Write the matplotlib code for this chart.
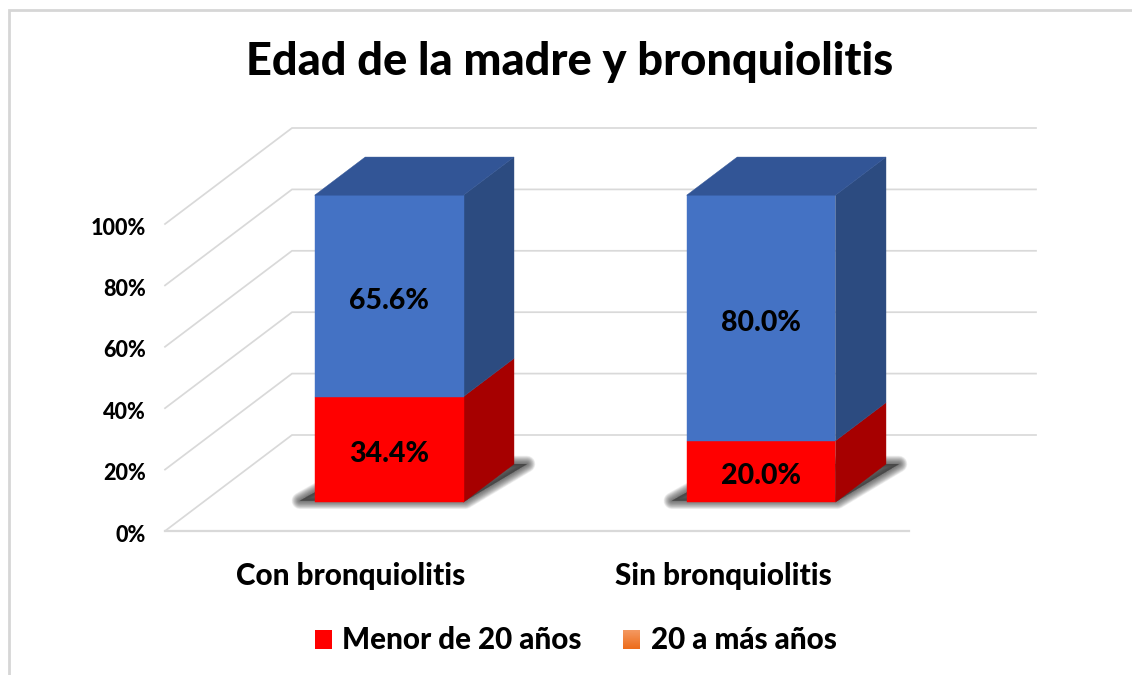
#Recreates the 3D looking stacked bar chart with plain 2D polygons.
import matplotlib
matplotlib.use("Agg")
import numpy as np
from matplotlib import pyplot as plt
from matplotlib.patches import Polygon, Rectangle
from matplotlib.colors import LinearSegmentedColormap
from matplotlib.transforms import ScaledTranslation

categories = ["Con bronquiolitis", "Sin bronquiolitis"]
menor_20 = [34.4, 20.0]
mayor_20 = [65.6, 80.0]
y_ticks = [0, 20, 40, 60, 80, 100]
series_names = ["Menor de 20 años", "20 a más años"]

W, H = 1132, 675

#Oblique projection: how far the back wall sits from the front plane, in data units.
DEPTH_X = 127 / 372
DEPTH_Y = 96 / 3.07
BAR_WIDTH = 0.40
BAR_FRONT = 0.30
BAR_BACK = 0.6975
RIGHT = 2

GRID = "#D9D9D9"
RED, RED_SIDE = "#FF0000", "#A60000"
BLUE, BLUE_TOP, BLUE_SIDE = "#4472C4", "#325596", "#2C4B80"

plt.rcParams["font.family"] = ["Lato", "DejaVu Sans"]
plt.rcParams["font.weight"] = 900


def proj(x, y, d):
  return (x + d * DEPTH_X, y + d * DEPTH_Y)


def face(ax, pts, color, z):
  ax.add_patch(Polygon(pts, closed=True, facecolor=color, edgecolor=color, lw=0.3, zorder=z, clip_on=False))


fig = plt.figure(figsize=(W / 100, H / 100), dpi=100)
#The axes box is the front plane of the 3D chart, everything else is drawn outside of it.
ax = fig.add_axes([165 / W, 1 - 531 / H, 744 / W, 307 / H])
ax.set_xlim(0, RIGHT)
ax.set_ylim(0, 100)
for s in ax.spines.values():
  s.set_visible(False)
ax.patch.set_visible(False)

#Grid: left wall and back wall lines
for t in y_ticks:
  p0, p1, p2 = proj(0, t, 0), proj(0, t, 1), proj(RIGHT, t, 1)
  ax.plot([p0[0], p1[0], p2[0]], [p0[1], p1[1], p2[1]], color=GRID, lw=1.25, clip_on=False, zorder=1,
          solid_joinstyle="miter")
ax.plot([0, RIGHT], [0, 0], color=GRID, lw=1.6, clip_on=False, zorder=1)

#Bars
for i in range(len(categories)):
  x0 = i + 0.5 - BAR_WIDTH / 2
  x1 = i + 0.5 + BAR_WIDTH / 2

  #Soft shadow on the floor, stacked see through polygons give the blur.
  floor = [proj(x0 - 0.045, 0, BAR_FRONT + 0.015), proj(x1, 0, BAR_FRONT + 0.015),
           proj(x1 + 0.035, 0, BAR_BACK), proj(x0, 0, BAR_BACK)]
  for lw in np.arange(12, 0, -0.6):
    ax.add_patch(Polygon(floor, closed=True, facecolor="#383838", edgecolor="#383838", lw=lw, alpha=0.05,
                         joinstyle="round", zorder=2, clip_on=False))

  base = 0
  for val, front_c, side_c in [(menor_20[i], RED, RED_SIDE), (mayor_20[i], BLUE, BLUE_SIDE)]:
    top = base + val
    face(ax, [proj(x1, base, BAR_FRONT), proj(x1, base, BAR_BACK), proj(x1, top, BAR_BACK), proj(x1, top, BAR_FRONT)], side_c, 3)
    face(ax, [proj(x0, base, BAR_FRONT), proj(x1, base, BAR_FRONT), proj(x1, top, BAR_FRONT), proj(x0, top, BAR_FRONT)], front_c, 4)
    cx, cy = proj(i + 0.5, base + val / 2, BAR_FRONT)
    ax.text(cx, cy - 1.5, "%.1f%%" % val, ha="center", va="center", fontsize=20.5, color="black", zorder=6, clip_on=False)
    base = top
  face(ax, [proj(x0, 100, BAR_FRONT), proj(x1, 100, BAR_FRONT), proj(x1, 100, BAR_BACK), proj(x0, 100, BAR_BACK)], BLUE_TOP, 5)

#Axis labels
ax.set_yticks(y_ticks)
ax.set_yticklabels(["%d%%" % t for t in y_ticks], fontsize=15.5)
ax.set_xticks([i + 0.5 for i in range(len(categories))])
ax.set_xticklabels(categories, fontsize=21.3)
ax.tick_params(axis="y", length=0, pad=14)
ax.tick_params(axis="x", length=0, pad=22)
#Tick text sits a little lower than the line it belongs to
down = ScaledTranslation(0, -1.5 / 72, fig.dpi_scale_trans)
for lab in ax.get_yticklabels():
  lab.set_transform(lab.get_transform() + down)

fig.text(570 / W, 1 - 62 / H, "Edad de la madre y bronquiolitis", ha="center", va="center", fontsize=32.5, color="black")

#Legend is placed by hand since the orange key has a gradient
fig.patches.append(Rectangle((315 / W, 1 - 649 / H), 17 / W, 19 / H, transform=fig.transFigure, facecolor=RED, edgecolor="none"))
fig.text(342 / W, 1 - 640 / H, series_names[0], ha="left", va="center", fontsize=21.3)
fig.text(651 / W, 1 - 640 / H, series_names[1], ha="left", va="center", fontsize=21.3)
key = fig.add_axes([623 / W, 1 - 649 / H, 17 / W, 19 / H])
orange = LinearSegmentedColormap.from_list("orange", ["#F49860", "#ED6D1C"])
key.imshow(np.linspace(0, 1, 20).reshape(-1, 1), cmap=orange, aspect="auto")
key.axis("off")

#Chart border, only top and left sides show in the picture
fig.add_artist(plt.Line2D([9 / W, 9 / W, 1], [0, 1 - 10 / H, 1 - 10 / H], color="#D6D6D6", lw=2, solid_joinstyle="miter"))

fig.savefig("out.png", dpi=100)
